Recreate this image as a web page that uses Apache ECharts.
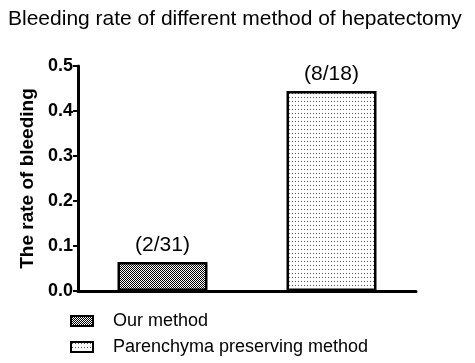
<!DOCTYPE html>
<html><head><meta charset="utf-8">
<script src="https://cdn.jsdelivr.net/npm/echarts@6/dist/echarts.min.js"></script>
<style>html,body{margin:0;padding:0;background:#fff}#c{width:475px;height:363px}</style>
</head><body><div id="c"></div>
<script>
var categories = ['Our method', 'Parenchyma preserving method'];
var values = [0.0645, 0.4444];
var barLabels = ['(2/31)', '(8/18)'];
var yTicks = [0, 0.1, 0.2, 0.3, 0.4, 0.5];

function checker() {
  var c = document.createElement('canvas'); c.width = 2; c.height = 2;
  var g = c.getContext('2d');
  g.fillStyle = '#fff'; g.fillRect(0, 0, 2, 2);
  g.fillStyle = '#000'; g.fillRect(0, 0, 1, 1); g.fillRect(1, 1, 1, 1);
  return c;
}
function dots() {
  var c = document.createElement('canvas'); c.width = 3; c.height = 4;
  var g = c.getContext('2d');
  g.fillStyle = '#fff'; g.fillRect(0, 0, 3, 4);
  g.fillStyle = '#555'; g.fillRect(1, 1, 1, 1);
  return c;
}
var patterns = [checker(), dots()];

var chart = echarts.init(document.getElementById('c'));
var series = categories.map(function (name, i) {
  return {
    name: name,
    type: 'bar',
    barWidth: 90,
    barGap: '-100%',
    data: categories.map(function (_, j) { return j === i ? values[i] : '-'; }),
    itemStyle: {
      color: { image: patterns[i], repeat: 'repeat' },
      borderColor: '#000',
      borderWidth: 2.5
    },
    label: {
      show: true, position: 'top', distance: 6,
      formatter: function () { return barLabels[i]; },
      color: '#000', fontSize: 21, fontFamily: 'Liberation Sans'
    }
  };
});

chart.setOption({
  animation: false,
  title: {
    text: 'Bleeding rate of different method of hepatectomy',
    left: 3, top: 4,
    textStyle: { fontSize: 21, fontWeight: 'normal', color: '#000', fontFamily: 'Liberation Sans' }
  },
  grid: { left: 78, right: 59, top: 66, bottom: 72, containLabel: false },
  legend: {
    orient: 'vertical', left: 70, top: 312, itemGap: 8,
    itemWidth: 22, itemHeight: 10, padding: 0,
    textStyle: { fontSize: 18, color: '#000', fontFamily: 'Liberation Sans', padding: [0, 0, 0, 15] },
    data: categories.map(function (n, i) {
      return { name: n, icon: 'rect', itemStyle: { color: { image: patterns[i], repeat: 'repeat' }, borderColor: '#000', borderWidth: 2 } };
    })
  },
  xAxis: {
    type: 'category', data: categories,
    axisLine: { lineStyle: { color: '#000', width: 3 } },
    axisTick: { alignWithLabel: true, length: 5, lineStyle: { color: '#000', width: 2 } },
    axisLabel: { show: false }
  },
  yAxis: {
    type: 'value', min: yTicks[0], max: yTicks[yTicks.length - 1], interval: 0.1,
    name: 'The rate of bleeding', nameLocation: 'middle', nameGap: 38,
    nameTextStyle: { fontSize: 19, fontWeight: 'bold', color: '#000', fontFamily: 'Liberation Sans' },
    axisLine: { show: true, lineStyle: { color: '#000', width: 3 } },
    axisTick: { show: true, length: 5, lineStyle: { color: '#000', width: 2 } },
    axisLabel: {
      margin: 5, fontSize: 18, fontWeight: 'bold', color: '#000', fontFamily: 'Liberation Sans',
      formatter: function (v) { return v.toFixed(1); }
    },
    splitLine: { show: false }
  },
  series: series
});
</script></body></html>
